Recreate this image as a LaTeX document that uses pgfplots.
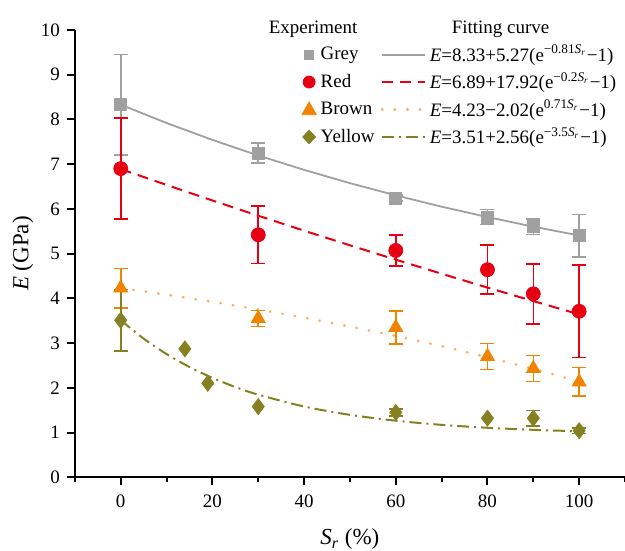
\documentclass[border=0pt]{standalone}
\usepackage{pgfplots}
\pgfplotsset{compat=1.18}
\usepackage{fontspec}
\setmainfont{Liberation Serif}
\definecolor{cgrey}{RGB}{160,160,160}
\definecolor{cred}{RGB}{230,0,18}
\definecolor{corange}{RGB}{240,131,0}
\definecolor{clight}{RGB}{246,178,107}
\definecolor{colive}{RGB}{133,128,34}
\tikzset{
 fitgrey/.style={cgrey, line width=0.9pt},
 fitred/.style={cred, line width=1pt, dash pattern=on 5.5pt off 3.5pt},
 fitbrown/.style={clight, line width=1.3pt, line cap=round, dash pattern=on 0.3pt off 6pt},
 fitolive/.style={colive, line width=1pt, dash pattern=on 6pt off 2.5pt on 1pt off 2.5pt},
}
\newcommand{\lbox}[1]{\makebox[23.5pt][l]{#1}}
\begin{document}
\begin{tikzpicture}
\begin{axis}[
 scale only axis, width=275.5pt, height=224pt,
 xmin=-10, xmax=110, ymin=0, ymax=10,
 axis lines*=left, axis line style={line width=1pt},
 xtick={0,20,...,100}, minor xtick={-10,10,...,110},
 ytick={0,1,...,10},
 tick align=outside, major tick length=4pt, minor tick length=2.2pt,
 tick style={line width=1pt, black},
 /pgf/number format/assume math mode=true,
 ticklabel style={font=\fontsize{9.5}{11}\selectfont},
 xticklabel style={yshift=-1.5pt},
 xlabel={\textit{S\textsubscript{r}} (\%)}, ylabel={\textit{E} (GPa)},
 label style={font=\fontsize{11.5}{13}\selectfont},
 xlabel style={yshift=-3.5pt},
 ylabel style={yshift=-3pt},
 legend columns=2,
 legend cell align=left,
 legend style={at={(rel axis cs:1.003,1.038)}, anchor=north east, draw=none, fill=none,
   font=\fontsize{9.5}{10}\selectfont, row sep=0pt,
   /tikz/every even column/.append style={column sep=4.5pt}},
 error bars/error bar style={line width=0.8pt},
 error bars/error mark options={line width=0.8pt, mark size=3.5pt, rotate=90},
]
% legend entries
\addlegendimage{legend image code/.code={\path (0,0);}}\addlegendentry{\lbox{\hspace*{-26pt}Experiment}}
\addlegendimage{legend image code/.code={\path (0,0);}}\addlegendentry{\hspace*{11pt}Fitting curve}
\addlegendimage{legend image code/.code={\path (0,0); \fill[cgrey] (0.3cm+10pt,0) +(-2.2pt,-2.2pt) rectangle +(2.2pt,2.2pt);}}\addlegendentry{\lbox{Grey}}
\addlegendimage{legend image code/.code={\draw[fitgrey] (0,0)--(0.75cm,0);}}\addlegendentry{\textit{E}=8.33+5.27(e\textsuperscript{−0.81\textit{S\textsubscript{r}}}−1)}
\addlegendimage{legend image code/.code={\path (0,0); \fill[cred] (0.3cm+10pt,0) circle (3pt);}}\addlegendentry{\lbox{Red}}
\addlegendimage{legend image code/.code={\draw[fitred] (0,0)--(0.75cm,0);}}\addlegendentry{\textit{E}=6.89+17.92(e\textsuperscript{−0.2\textit{S\textsubscript{r}}}−1)}
\addlegendimage{legend image code/.code={\path (0,0); \fill[corange] (0.3cm+10pt,0) +(0,3.8pt) -- +(-3.6pt,-2.6pt) -- +(3.6pt,-2.6pt) -- cycle;}}\addlegendentry{\lbox{Brown}}
\addlegendimage{legend image code/.code={\draw[fitbrown] (0,0)--(0.75cm,0);}}\addlegendentry{\textit{E}=4.23−2.02(e\textsuperscript{0.71\textit{S\textsubscript{r}}}−1)}
\addlegendimage{legend image code/.code={\path (0,0); \fill[colive] (0.3cm+10pt,0) +(0,3.4pt) -- +(3.2pt,0) -- +(0,-3.4pt) -- +(-3.2pt,0) -- cycle;}}\addlegendentry{\lbox{Yellow}}
\addlegendimage{legend image code/.code={\draw[fitolive] (0,0)--(0.75cm,0);}}\addlegendentry{\textit{E}=3.51+2.56(e\textsuperscript{−3.5\textit{S\textsubscript{r}}}−1)}

% fitting curves
\addplot[fitgrey, forget plot] coordinates {(0,8.33)(10,7.920)(20,7.542)(30,7.193)(40,6.872)(50,6.575)(60,6.302)(70,6.049)(80,5.817)(90,5.602)(100,5.405)};
\addplot[fitred, forget plot] coordinates {(0,6.89)(10,6.535)(20,6.187)(30,5.846)(40,5.512)(50,5.185)(60,4.864)(70,4.549)(80,4.240)(90,3.938)(100,3.642)};
\addplot[fitbrown, forget plot] coordinates {(0,4.23)(10,4.081)(20,3.922)(30,3.750)(40,3.567)(50,3.369)(60,3.157)(70,2.930)(80,2.685)(90,2.423)(100,2.141)};
\addplot[fitolive, forget plot, smooth] coordinates {(0,3.51)(5,3.099)(10,2.754)(15,2.464)(20,2.221)(25,2.017)(30,1.846)(40,1.581)(50,1.395)(60,1.264)(70,1.171)(80,1.106)(90,1.060)(100,1.027)};

% experiments
\addplot[forget plot, only marks, mark=square*, mark size=3pt, color=cgrey,
  error bars/.cd, y dir=both, y explicit] table[x=x, y=y, y error=e] {
x y e
0 8.33 1.12
30 7.25 0.22
60 6.24 0.07
80 5.82 0.17
90 5.60 0.17
100 5.40 0.47
};
\addplot[forget plot, only marks, mark=*, mark size=3.5pt, color=cred,
  error bars/.cd, y dir=both, y explicit] table[x=x, y=y, y error=e] {
x y e
0 6.90 1.13
30 5.42 0.64
60 5.07 0.35
80 4.64 0.55
90 4.10 0.67
100 3.71 1.03
};
\addplot[forget plot, only marks, mark=triangle*, mark size=4pt, color=corange,
  error bars/.cd, y dir=both, y explicit] table[x=x, y=y, y error=e] {
x y e
0 4.23 0.44
30 3.55 0.18
60 3.35 0.37
80 2.70 0.29
90 2.43 0.29
100 2.13 0.32
};
\addplot[forget plot, only marks, mark=diamond*, mark size=4pt, color=colive,
  error bars/.cd, y dir=both, y explicit] table[x=x, y=y, y error=e] {
x y e
0 3.51 0.69
60 1.45 0.08
90 1.32 0.17
100 1.04 0.06
};
\addplot[forget plot, only marks, mark=diamond*, mark size=4pt, color=colive] coordinates {(14,2.87)(19,2.10)(30,1.58)(80,1.32)};
\end{axis}
\pgfresetboundingbox
\path[use as bounding box] (-37.5pt,-36.5pt) rectangle (275.5pt,239pt);
\end{tikzpicture}
\end{document}
